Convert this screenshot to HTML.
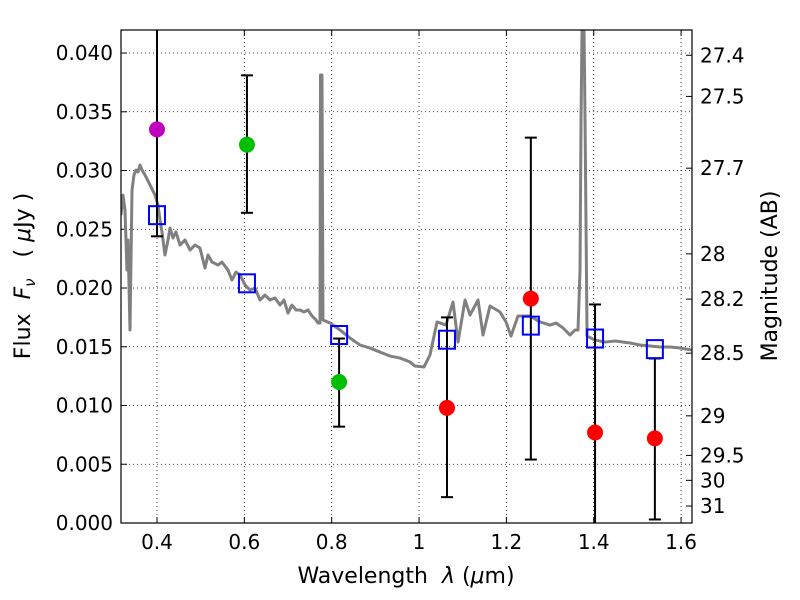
<!DOCTYPE html>
<html><head><meta charset="utf-8"><style>
body{margin:0;background:#fff}
svg{display:block;font-family:"DejaVu Sans","Liberation Sans",sans-serif}
</style></head><body>
<svg id="chart" width="800" height="600" viewBox="0 0 800 600"></svg>
<script>
const specWave=[0.3176,0.3221,0.3267,0.3313,0.3336,0.3382,0.3428,0.3473,0.3519,0.3565,0.3611,0.3657,0.3725,0.3840,0.3954,0.4023,0.4069,0.4114,0.4183,0.4252,0.4298,0.4366,0.4435,0.4527,0.4641,0.4756,0.4870,0.4985,0.5099,0.5168,0.5259,0.5397,0.5488,0.5626,0.5717,0.5809,0.5901,0.6015,0.6130,0.6244,0.6359,0.6473,0.6588,0.6702,0.6817,0.6908,0.7000,0.7091,0.7183,0.7275,0.7366,0.7458,0.7549,0.7641,0.7687,0.7733,0.7744,0.7778,0.7800,0.7962,0.8191,0.8420,0.8649,0.8878,0.9106,0.9335,0.9564,0.9793,0.9908,1.0114,1.0251,1.0412,1.0618,1.0778,1.0893,1.1053,1.1167,1.1351,1.1465,1.1625,1.1854,1.1992,1.2106,1.2266,1.2541,1.2770,1.2999,1.3137,1.3297,1.3457,1.3572,1.3640,1.3686,1.3709,1.3732,1.3778,1.3801,1.3847,1.4030,1.4259,1.4488,1.4832,1.5061,1.5519,1.5748,1.5977,1.625];
const specFlux=[0.02621,0.02791,0.02664,0.02153,0.02409,0.01643,0.02834,0.02962,0.03004,0.02987,0.03047,0.03004,0.02962,0.02877,0.02791,0.02706,0.02579,0.02477,0.02281,0.02409,0.02511,0.02426,0.02477,0.02366,0.02409,0.02323,0.02366,0.02340,0.02170,0.02281,0.02221,0.02196,0.02221,0.02153,0.02068,0.02136,0.02111,0.02026,0.01983,0.02000,0.01898,0.01940,0.01898,0.01915,0.01855,0.01898,0.01787,0.01855,0.01813,0.01813,0.01796,0.01813,0.01762,0.01728,0.01702,0.01702,0.03813,0.03813,0.01728,0.01702,0.01643,0.01574,0.01515,0.01489,0.01455,0.01421,0.01404,0.01370,0.01336,0.01328,0.01430,0.01711,0.01685,0.01881,0.01540,0.01898,0.01770,0.01898,0.01600,0.01847,0.01796,0.01711,0.01591,0.01762,0.01762,0.01711,0.01685,0.01702,0.01660,0.01600,0.01643,0.01643,0.02153,0.0343,0.042,0.042,0.0343,0.01591,0.01557,0.01540,0.01549,0.01532,0.01515,0.01498,0.01498,0.01489,0.01472];
const photWave=[0.400,0.606,0.817,1.064,1.256,1.403,1.540];
const photFlux=[0.0335,0.0322,0.0120,0.0098,0.0191,0.0077,0.0072];
const errLow=[0.0244,0.0264,0.0082,0.0022,0.0054,-0.001,0.0003];
const errHigh=[0.045,0.0381,0.0157,0.0175,0.0328,0.0186,0.0140];
const photColors=["#bf00bf","#00bf00","#00bf00","#ff0000","#ff0000","#ff0000","#ff0000"];
const modelFlux=[0.0262,0.0204,0.0160,0.0156,0.0168,0.0157,0.0148];
const xTicks=[0.4,0.6,0.8,1.0,1.2,1.4,1.6];
const xTickLabels=["0.4","0.6","0.8","1","1.2","1.4","1.6"];
const yTicks=[0,0.005,0.010,0.015,0.020,0.025,0.030,0.035,0.040];
const yTickLabels=["0.000","0.005","0.010","0.015","0.020","0.025","0.030","0.035","0.040"];
const magTicks=[27.4,27.5,27.7,28,28.2,28.5,29,29.5,30,31];

const L=121,R=692,T=30,B=523,XMIN=0.3176,XMAX=1.625,YMIN=0,YMAX=0.04196;
const X=v=>L+(v-XMIN)/(XMAX-XMIN)*(R-L);
const Y=v=>B-(v-YMIN)/(YMAX-YMIN)*(B-T);
const NS="http://www.w3.org/2000/svg";
const svg=document.getElementById('chart');
function mk(tag,attrs,parent){const e=document.createElementNS(NS,tag);for(const k in attrs)e.setAttribute(k,attrs[k]);(parent||svg).appendChild(e);return e;}
const clip=mk('clipPath',{id:'pc'});mk('rect',{x:L,y:T,width:R-L,height:B-T},clip);
xTicks.forEach((v,i)=>{
 const g=mk('line',{x1:X(v),x2:X(v),y1:T,y2:B,stroke:'#000','stroke-width':0.8,'stroke-dasharray':'1,3'});
 
 mk('line',{x1:X(v),x2:X(v),y1:B,y2:B-6,stroke:'#000'});mk('line',{x1:X(v),x2:X(v),y1:T,y2:T+6,stroke:'#000'});
 const t=mk('text',{x:X(v),y:B+26,'font-size':20,'text-anchor':'middle'});t.textContent=xTickLabels[i];
 
});
yTicks.forEach((v,i)=>{
 const g=mk('line',{x1:L,x2:R,y1:Y(v),y2:Y(v),stroke:'#000','stroke-width':0.8,'stroke-dasharray':'1,3'});
 
 mk('line',{x1:L,x2:L+6,y1:Y(v),y2:Y(v),stroke:'#000'});
 const t=mk('text',{x:L-8,y:Y(v)+7,'font-size':20,'text-anchor':'end'});t.textContent=yTickLabels[i];
 
});
magTicks.forEach(m=>{
 const f=Math.pow(10,(23.9-m)/2.5);const y=Y(f);
 mk('line',{x1:R,x2:R-6,y1:y,y2:y,stroke:'#000'});
 const t=mk('text',{x:R+8,y:y+7,'font-size':20});t.textContent=String(m);
 
});
const g=mk('g',{'clip-path':'url(#pc)'});
const sp=mk('polyline',{points:specWave.map((w,i)=>X(w)+','+Y(specFlux[i])).join(' '),fill:'none',stroke:'#808080','stroke-width':3,'stroke-linejoin':'round'},g);

photWave.forEach((w,i)=>{
 const x=X(w);
 const e=mk('line',{x1:x,x2:x,y1:Y(errHigh[i]),y2:Y(errLow[i]),stroke:'#000','stroke-width':2},g);
 
 mk('line',{x1:x-6,x2:x+6,y1:Y(errHigh[i]),y2:Y(errHigh[i]),stroke:'#000','stroke-width':2},g);
 mk('line',{x1:x-6,x2:x+6,y1:Y(errLow[i]),y2:Y(errLow[i]),stroke:'#000','stroke-width':2},g);
});
photWave.forEach((w,i)=>{
 const c=mk('circle',{cx:X(w),cy:Y(photFlux[i]),r:8,fill:photColors[i]},g);
 
 const s=mk('rect',{x:X(w)-8,y:Y(modelFlux[i])-9,width:16,height:18,fill:'none',stroke:'#0000ff','stroke-width':2},g);
 
});
const fr=mk('rect',{x:L,y:T,width:R-L,height:B-T,fill:'none',stroke:'#000','stroke-width':1.2});

</script>
<svg style="position:absolute;left:0;top:0" width="800" height="600">
<text x="406" y="583" font-size="22" text-anchor="middle" font-family="DejaVu Sans,sans-serif" xml:space="preserve">Wavelength  <tspan font-style="italic">λ</tspan> (<tspan font-style="italic">μ</tspan>m)</text>
<text transform="translate(30,276) rotate(-90)" font-size="22" text-anchor="middle" font-family="DejaVu Sans,sans-serif" xml:space="preserve">Flux  <tspan font-style="italic">F</tspan><tspan font-style="italic" font-size="15" dy="5">ν</tspan><tspan dy="-5">   ( </tspan><tspan font-style="italic">μ</tspan>Jy )</text>
<text transform="translate(777,276) rotate(-90)" font-size="22" text-anchor="middle" font-family="DejaVu Sans,sans-serif">Magnitude (AB)</text>
</svg>
</body></html>
